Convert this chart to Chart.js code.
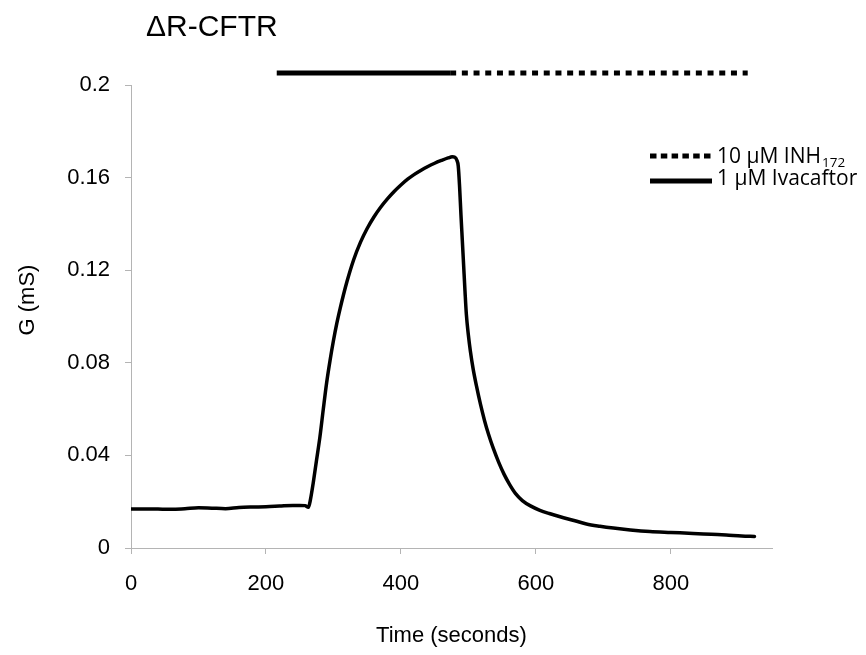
<!DOCTYPE html>
<html>
<head>
<meta charset="utf-8">
<script src="https://cdn.jsdelivr.net/npm/chart.js@4/dist/chart.umd.min.js"></script>
<style>
  html, body { margin: 0; padding: 0; background: #fff; }
  #wrap { width: 866px; height: 655px; }
</style>
</head>
<body>
<div id="wrap"><canvas id="c" width="866" height="655"></canvas></div>
<script>
// ---- Data ----
const times = [0, 20, 40, 60, 80, 100, 120, 140, 160, 180, 200, 220, 240, 250, 258, 263,
  266, 270, 275, 280, 285, 290, 295, 300, 305, 310, 315, 320, 330, 340, 350, 360, 370, 380,
  390, 400, 410, 420, 430, 440, 450, 460, 470, 476, 480, 483, 485,
  487, 489, 491, 493, 495, 497, 500, 503, 507, 512, 518, 524, 530, 537, 545, 553, 561, 570,
  580, 592, 606, 620, 636, 655, 675, 695, 715, 740, 769, 800, 833, 860, 882, 905, 924];
const conductance = [0.0168, 0.0169, 0.0168, 0.0167, 0.0170, 0.0174, 0.0172, 0.0170, 0.0175,
  0.0177, 0.0178, 0.0181, 0.0184, 0.0184, 0.0183, 0.0176,
  0.0210, 0.0280, 0.0380, 0.0480, 0.0600, 0.0715, 0.0810, 0.0895, 0.0970, 0.1035, 0.1095,
  0.1150, 0.1245, 0.1320, 0.1380, 0.1430, 0.1472, 0.1508, 0.1540, 0.1568, 0.1593, 0.1614,
  0.1632, 0.1648, 0.1662, 0.1674, 0.1685, 0.1690, 0.1688, 0.1675, 0.1650,
  0.1560, 0.1440, 0.1330, 0.1220, 0.1110, 0.1010, 0.0920, 0.0850, 0.0775, 0.0700, 0.0620,
  0.0550, 0.0490, 0.0430, 0.0370, 0.0318, 0.0275, 0.0235, 0.0205, 0.0182, 0.0163, 0.0149,
  0.0135, 0.0120, 0.0104, 0.0094, 0.0086, 0.0078, 0.0071, 0.0067, 0.0063, 0.0059, 0.0056,
  0.0052, 0.0050];
const xTicks = [0, 200, 400, 600, 800];
const yTicks = [0, 0.04, 0.08, 0.12, 0.16, 0.2];
const ivacaftorSpan = [216, 473];   // solid bar (seconds)
const inhSpan = [473, 914];         // dotted bar (seconds)
const barLevel = 0.2052;            // drawn just above the plot
const titleText = 'ΔR-CFTR';
const xTitle = 'Time (seconds)';
const yTitle = 'G (mS)';
const legendItems = [
  { main: '10 µM INH', sub: '172', dashed: true },
  { main: '1 µM Ivacaftor', sub: '', dashed: false }
];

const AXIS_FONT = "'Liberation Sans', Arial, sans-serif";
const LEG_FONT = "'Open Sans', sans-serif";
const GRAY = '#b4b4b4';

Chart.defaults.font.family = AXIS_FONT;
Chart.defaults.color = '#000';

const trace = times.map((t, i) => ({ x: t, y: conductance[i] }));
const ivaBar = ivacaftorSpan.map(t => ({ x: t, y: barLevel }));
const inhBar = inhSpan.map(t => ({ x: t, y: barLevel }));

const decorPlugin = {
  id: 'decor',
  afterDraw(chart) {
    const ctx = chart.ctx;
    ctx.save();
    ctx.fillStyle = '#000';
    // title
    ctx.font = "30px " + AXIS_FONT;
    ctx.textBaseline = 'middle';
    ctx.textAlign = 'left';
    ctx.fillText(titleText, 146, 28);
    // y-axis title
    ctx.save();
    ctx.translate(28, 300);
    ctx.rotate(-Math.PI / 2);
    ctx.textAlign = 'center';
    ctx.font = "22px " + AXIS_FONT;
    ctx.fillText(yTitle, 0, 0);
    ctx.restore();
    // legend
    const lx0 = 650, lx1 = 712, tx = 717;
    const rows = [156, 181];
    legendItems.forEach((it, i) => {
      const y = rows[i];
      ctx.beginPath();
      ctx.lineWidth = 5;
      ctx.strokeStyle = '#000';
      ctx.lineCap = 'butt';
      ctx.setLineDash(it.dashed ? [6.5, 4.3] : []);
      ctx.moveTo(lx0, y);
      ctx.lineTo(lx1, y);
      ctx.stroke();
      ctx.setLineDash([]);
      ctx.textAlign = 'left';
      ctx.font = "21px " + LEG_FONT;
      ctx.textBaseline = 'alphabetic';
      const base = i === 0 ? 163 : 185;
      ctx.fillText(it.main, tx, base);
      if (it.sub) {
        const w = ctx.measureText(it.main).width;
        ctx.font = "13.5px " + LEG_FONT;
        ctx.fillText(it.sub, tx + w + 1, base + 4);
      }
    });
    ctx.restore();
  }
};

new Chart(document.getElementById('c'), {
  type: 'line',
  data: {
    datasets: [
      {
        data: trace,
        borderColor: '#000',
        borderWidth: 3.5,
        pointRadius: 0,
        cubicInterpolationMode: 'monotone',
        borderJoinStyle: 'round',
        borderCapStyle: 'round'
      },
      {
        data: ivaBar,
        borderColor: '#000',
        borderWidth: 5,
        pointRadius: 0,
        borderCapStyle: 'butt',
        clip: false
      },
      {
        data: inhBar,
        borderColor: '#000',
        borderWidth: 5,
        pointRadius: 0,
        borderCapStyle: 'butt',
        borderDash: [6, 5.7],
        clip: false
      }
    ]
  },
  options: {
    responsive: false,
    maintainAspectRatio: false,
    animation: false,
    layout: { padding: { left: 0, right: 94, top: 85, bottom: 0 } },
    plugins: { legend: { display: false }, tooltip: { enabled: false }, title: { display: false } },
    scales: {
      x: {
        type: 'linear',
        min: 0,
        max: 950,
        afterBuildTicks: s => { s.ticks = xTicks.map(v => ({ value: v })); },
        afterFit: s => { s.height = 107; },
        ticks: { font: { size: 22 }, padding: 17, maxRotation: 0, autoSkip: false, callback: v => String(v) },
        grid: { drawOnChartArea: false, drawTicks: true, tickLength: 6, color: GRAY, lineWidth: 1 },
        border: { display: true, color: GRAY, width: 1 },
        title: { display: true, text: xTitle, font: { size: 22 }, padding: { top: 0, bottom: 6 } }
      },
      y: {
        type: 'linear',
        min: 0,
        max: 0.2,
        afterBuildTicks: s => { s.ticks = yTicks.map(v => ({ value: v })); },
        afterFit: s => { s.width = 131; },
        ticks: { font: { size: 22 }, padding: 15, autoSkip: false, callback: v => String(+Number(v).toFixed(2)) },
        grid: { drawOnChartArea: false, drawTicks: true, tickLength: 6, color: GRAY, lineWidth: 1 },
        border: { display: true, color: GRAY, width: 1 },
        title: { display: false }
      }
    }
  },
  plugins: [decorPlugin]
});
</script>
</body>
</html>
